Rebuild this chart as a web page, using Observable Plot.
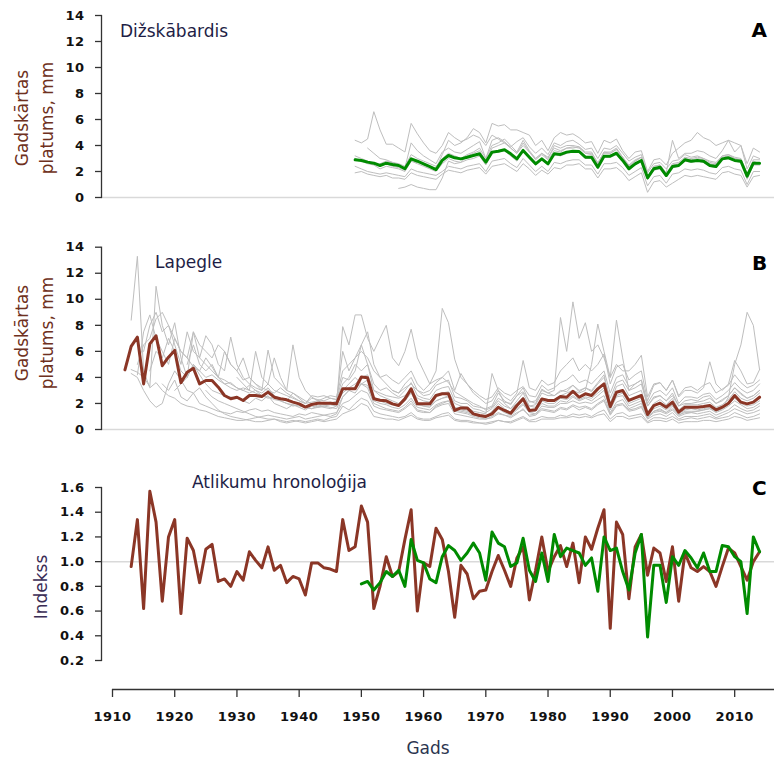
<!DOCTYPE html>
<html><head><meta charset="utf-8">
<script src="https://cdn.jsdelivr.net/npm/d3@7"></script>
<script src="https://cdn.jsdelivr.net/npm/@observablehq/plot@0.6"></script>
<style>
body{margin:0;background:#fff;}
#chart{position:relative;width:774px;height:766px;background:#fff;font-family:"DejaVu Sans",sans-serif;overflow:hidden}
.panel{position:absolute;left:0}
.lbl{position:absolute;white-space:nowrap;font-size:17px;line-height:17px}
.rot{transform:translate(-50%,-50%) rotate(-90deg)}
.letter{position:absolute;font-size:20px;font-weight:bold;line-height:20px;color:#000}
</style></head><body><div id="chart"></div><script>
// ---------- tick labels ----------
const rawTicks = [0, 2, 4, 6, 8, 10, 12, 14];
const indexTicks = [0.2, 0.4, 0.6, 0.8, 1.0, 1.2, 1.4, 1.6];
const yearTicks = [1910, 1920, 1930, 1940, 1950, 1960, 1970, 1980, 1990, 2000, 2010];

// ---------- A: Dižskābardis ring widths (mm), mean 1949–2014 ----------
const dizMeanStart = 1949;
const dizMean = [2.90,2.85,2.72,2.64,2.46,2.64,2.54,2.46,2.21,2.97,
2.79,2.59,2.38,2.15,2.85,3.23,3.05,2.97,3.10,3.23,
3.36,2.72,3.49,3.56,3.67,3.36,2.97,3.62,3.10,2.59,
2.97,2.59,3.36,3.31,3.49,3.56,3.54,3.10,3.10,2.33,
3.18,3.18,3.41,2.85,2.21,2.59,2.85,1.51,2.21,2.33,
1.69,2.38,2.46,2.90,2.79,2.85,2.79,2.46,2.38,2.97,
3.05,2.85,2.79,1.64,2.64,2.64];
// individual trees (gray)
const dizTreeStarts = [1949, 1949, 1949, 1949, 1956, 1949, 1951, 1953];
const dizTree1 = [4.4,4.2,4.5,6.6,5.2,4.1,4.1,3.8,3.5,5.7, 4.9,4.2,3.6,3.4,4.0,5.0,4.6,4.3,4.5,4.8, 4.6,4.0,4.8,4.5,4.2,3.9,4.3,4.6,3.9,3.4, 3.8,3.3,4.2,4.0,4.3,4.4,4.1,3.7,3.8,3.0, 3.8,3.7,4.0,3.4,2.8,3.1,3.3,1.9,2.6,2.7, 2.2,2.8,2.9,3.3,3.1,3.2,3.0,2.8,2.7,3.2, 3.3,3.0,2.9,1.9,2.8,2.6];
const dizTree2 = [3.2,3.0,2.8,2.6,2.5,2.6,2.4,2.3,2.1,3.0, 2.8,2.5,2.4,2.2,3.3,4.4,4.0,4.2,4.6,5.3, 5.0,4.2,5.7,5.5,5.6,5.2,5.2,5.0,4.8,4.0, 4.4,3.6,4.6,5.0,4.8,4.9,4.6,4.2,4.3,3.4, 4.4,4.2,4.5,3.6,3.0,3.5,3.6,2.0,2.9,3.0, 2.5,3.4,3.8,4.2,4.4,5.0,4.6,4.4,4.0,4.2, 4.4,4.2,4.0,2.6,3.8,3.5];
const dizTree3 = [3.0,2.8,2.6,2.5,2.2,2.4,2.3,2.2,2.0,2.8, 2.6,2.4,2.2,2.0,2.6,3.0,2.8,2.7,2.9,3.0, 3.2,2.5,3.4,3.5,3.6,3.2,2.8,3.6,3.0,2.5, 2.9,2.5,3.3,3.2,3.4,3.5,3.5,3.0,3.0,2.2, 3.1,3.1,3.3,2.8,2.1,2.5,2.8,1.4,2.1,2.2, 1.6,2.3,2.4,2.8,2.7,2.8,2.7,2.4,2.3,2.9, 3.0,2.8,2.7,1.5,2.6,2.6];
const dizTree4 = [2.4,2.2,2.0,1.9,1.8,1.9,1.8,1.7,1.6,2.2, 2.0,1.9,1.8,1.7,2.0,2.4,2.3,2.2,2.4,2.5, 2.6,2.0,2.8,2.9,3.0,2.6,2.3,3.0,2.5,2.0, 2.4,2.0,2.7,2.6,2.8,2.9,2.9,2.5,2.5,1.8, 2.6,2.6,2.7,2.3,1.7,2.0,2.3,0.9,1.6,1.7, 1.1,1.8,1.9,2.2,2.1,2.2,2.1,1.9,1.8,2.3, 2.4,2.2,2.1,1.0,2.0,2.0];
const dizTree5 = [0.7,0.8,1.0,0.8,0.7,0.6,0.6,1.5,2.8,2.6, 2.7,3.2,3.4,3.6,2.8,3.8,4.0,4.2,3.8,3.4, 4.0,3.5,2.9,3.3,2.9,3.6,3.5,3.8,3.8,3.9, 3.4,3.3,2.6,3.5,3.4,3.7,3.1,2.4,2.8,3.1, 1.6,2.4,2.5,1.8,2.6,2.7,3.1,3.0,3.1,3.0, 2.7,2.6,3.2,3.3,3.1,3.0,1.8,2.9,2.9];
const dizTree6 = [1.9,2.0,1.8,1.7,1.6,1.7,1.5,1.5,1.4,1.9, 1.7,1.6,1.5,1.4,1.8,2.1,2.0,1.9,2.1,2.2, 2.3,1.8,2.4,2.5,2.6,2.3,2.0,2.6,2.2,1.7, 2.1,1.8,2.3,2.2,2.5,2.5,2.6,2.2,2.2,1.5, 2.2,2.2,2.3,1.9,1.3,1.6,1.9,0.4,1.2,1.3, 0.8,1.1,1.4,1.7,1.6,1.7,1.6,1.5,1.4,1.9, 2.0,1.8,1.7,0.8,1.6,1.7];
const dizTree7 = [3.8,3.4,3.0,2.9,2.7,2.5,2.3,4.2,3.6,3.2, 2.9,2.6,3.5,3.8,3.5,3.4,3.7,4.0,4.3,3.0, 4.4,4.6,4.3,3.8,3.4,4.2,3.5,3.0,3.4,3.0, 4.0,3.8,4.0,4.0,3.9,3.5,3.5,2.6,3.5,3.5, 3.8,3.1,2.5,2.9,3.1,1.6,2.4,2.5,1.9,4.4, 3.0,3.4,3.4,3.6,3.5,3.2,3.0,3.6,4.4,3.5, 4.0,2.2,3.2,3.0];
const dizTree8 = [2.6,2.8,2.7,2.6,2.4,3.3,3.0,2.8,2.6,2.4, 3.0,3.4,3.2,3.0,3.3,3.5,3.8,3.0,4.0,4.2, 4.5,4.0,3.5,4.4,3.6,3.0,3.4,3.1,3.8,3.6, 3.8,3.9,3.8,3.4,3.4,2.7,3.4,3.4,3.7,3.1, 2.4,2.8,3.1,1.4,2.2,2.3,1.6,2.5,2.6,3.0, 2.9,3.0,2.9,2.6,2.5,3.1,3.2,3.0,2.9,1.4, 2.5,2.5];

// ---------- B: Lapegle ring widths (mm), mean 1912–2014 ----------
const lapMeanStart = 1912;
const lapMean = [4.58,6.38,7.09,3.50,6.58,7.20,4.90,5.55,6.07,3.60,
4.40,4.70,3.50,3.76,3.76,3.25,2.61,2.36,2.48,2.23,
2.61,2.61,2.53,2.87,2.48,2.36,2.28,2.10,1.97,1.72,
1.92,2.02,2.02,2.02,1.97,3.13,3.13,3.13,4.03,3.97,
2.36,2.25,2.20,1.97,1.84,2.35,3.12,1.97,1.97,1.97,
2.61,2.74,2.74,1.46,1.66,1.66,1.20,1.08,1.00,1.20,
1.71,1.46,1.25,1.84,2.35,1.46,1.51,2.35,2.23,2.23,
2.53,2.48,2.94,2.48,2.74,2.61,3.12,3.50,1.76,2.86,
2.99,2.23,2.43,2.61,1.15,1.84,2.02,1.71,2.10,1.33,
1.71,1.71,1.71,1.76,1.84,1.51,1.71,2.02,2.61,2.10,
1.97,2.10,2.48];
const lapTreeStarts = [1913, 1913, 1913, 1915, 1914, 1916, 1920, 1918, 1922, 1925, 1914, 1930, 1955];
const lapTree1 = [8.4,13.3,4.5,3.2,3.6,3.0,2.6,2.4,2.0,1.8, 1.7,1.5,1.4,1.2,1.0,0.9,0.8,0.7,0.7,0.8, 0.9,1.0,1.1,1.0,0.9,0.8,0.9,1.0,0.8,0.9, 1.0,1.1,1.0,1.2,2.5,3.0,2.8,3.5,3.2,2.0, 1.8,1.6,1.5,1.4,1.7,2.2,1.5,1.4,1.3,1.8, 2.0,2.2,1.4,1.3,1.2,1.0,0.9,0.8,0.9,1.2, 1.1,1.0,1.3,1.5,1.1,1.2,1.6,1.5,1.4,1.7, 1.6,1.9,1.7,1.8,1.6,2.0,2.3,1.2,1.9,2.0, 1.5,1.6,1.8,0.9,1.3,1.4,1.2,1.5,1.0,1.2, 1.3,1.2,1.3,1.4,1.1,1.3,1.5,1.9,1.6,1.4,1.5,1.8];
const lapTree2 = [4.6,4.4,4.0,3.3,11.0,8.0,6.5,8.2,5.5,4.0, 5.0,4.2,3.5,3.0,2.8,2.6,2.5,2.4,2.2,2.0, 2.4,2.2,2.6,2.0,1.8,1.6,1.9,1.7,1.5,1.8, 1.7,1.8,1.9,1.8,7.9,6.5,8.8,8.8,7.0,6.0, 7.0,8.0,5.5,4.9,6.0,7.7,5.5,4.5,3.5,3.8, 4.0,3.6,2.9,2.6,2.3,2.0,1.8,1.5,1.7,2.4, 2.1,2.0,2.6,2.9,2.2,2.0,3.1,2.8,2.6,2.9, 3.1,3.4,3.0,3.2,2.9,3.5,4.0,2.4,3.6,3.8, 3.0,3.2,3.5,1.8,2.4,2.6,2.2,2.8,1.8,2.2, 2.3,2.2,2.5,2.6,2.0,2.3,2.6,3.2,2.7,2.4,2.6,3.0];
const lapTree3 = [4.3,4.0,3.0,2.2,1.7,2.0,3.5,4.5,3.8,3.0, 2.8,3.2,2.5,2.0,1.5,1.2,1.0,0.9,0.8,0.7, 0.6,0.6,0.7,0.8,0.6,0.5,0.6,0.7,0.6,0.7, 0.8,0.7,0.9,1.0,1.8,1.5,2.0,2.4,2.2,1.4, 1.2,1.1,1.0,0.9,1.0,1.3,0.9,0.8,0.8,1.0, 1.2,1.3,0.8,0.7,0.7,0.6,0.5,0.5,0.6,0.7, 0.6,0.6,0.8,1.0,0.7,0.8,1.0,0.9,0.9,1.1, 1.0,1.2,1.1,1.2,1.0,1.3,1.5,0.8,1.2,1.3, 1.0,1.1,1.2,0.6,0.9,0.9,0.8,1.0,0.7,0.8, 0.9,0.8,0.9,1.0,0.8,0.9,1.0,1.3,1.1,0.9,1.0,1.2];
const lapTree4 = [6.0,8.0,9.0,7.5,8.0,6.5,5.0,7.5,6.0,5.5, 7.2,6.5,5.0,4.5,7.1,5.0,4.0,3.5,3.2,3.0, 6.1,4.0,3.5,3.0,6.5,4.0,3.0,2.5,2.2,2.4, 2.6,2.5,4.5,5.0,5.5,6.0,5.5,4.5,4.0,4.2, 3.8,3.5,4.0,4.5,3.5,3.0,3.5,4.5,9.3,8.2, 5.4,4.0,3.5,3.0,2.6,2.3,2.5,3.2,2.8,2.6, 3.0,3.3,2.6,2.5,3.4,3.0,3.2,3.6,3.8,4.2, 3.6,3.8,3.5,4.0,4.5,2.8,4.0,4.2,3.3,3.5, 3.8,2.0,2.8,3.0,2.6,3.2,2.0,2.5,2.5,2.4, 2.7,2.8,2.3,2.6,3.0,3.6,3.1,2.8,3.0,3.5];
const lapTree5 = [5.0,6.5,7.0,8.5,9.0,8.0,7.0,6.0,5.5,7.5, 6.5,6.0,5.5,6.5,6.0,5.0,4.5,5.5,4.0,3.5, 3.2,3.0,2.8,3.2,2.8,2.5,2.2,2.0,2.4,2.3, 2.2,2.4,2.3,3.5,4.0,5.0,4.5,5.0,3.5,3.0, 3.2,2.8,2.5,3.0,3.6,2.6,2.4,2.3,3.0,3.2, 3.3,2.2,2.0,2.0,1.6,1.5,1.3,1.6,2.2,1.8, 1.6,2.2,2.8,1.8,1.9,2.8,2.6,2.6,3.0,2.9, 3.4,2.9,3.2,3.0,3.6,4.2,2.0,3.3,3.5,2.6, 2.8,3.0,1.3,2.0,2.3,1.9,2.4,1.5,1.9,1.9, 1.9,2.0,2.1,1.7,1.9,2.3,2.9,2.4,2.2,2.4,2.8];
const lapTree6 = [4.5,6.0,5.5,7.0,6.0,4.5,4.0,5.0,4.5,4.0, 4.2,3.8,3.5,3.6,3.2,3.0,3.4,3.0,2.8,3.2, 2.6,2.4,2.2,2.8,2.4,2.0,2.6,2.5,2.6,2.4, 2.3,4.0,3.8,4.5,6.5,7.5,5.0,4.0,3.5,3.0, 2.8,3.5,4.0,3.0,2.6,2.7,3.4,3.6,3.8,2.5, 2.4,2.2,1.8,1.7,1.6,1.8,2.8,2.2,1.9,2.6, 3.2,2.1,2.2,3.0,2.8,3.0,8.6,6.0,9.8,7.0, 8.2,6.0,6.5,5.5,4.0,5.0,4.5,4.5,5.0,5.7, 2.5,3.5,3.6,3.0,3.8,2.5,3.0,3.0,2.8,3.2, 5.2,3.5,3.0,3.5,5.3,4.5,3.5,3.6,4.6];
const lapTree7 = [3.0,3.5,4.0,7.5,5.5,5.0,4.5,4.0,3.5,3.2, 3.0,3.2,3.0,6.0,4.0,3.5,3.0,2.8,2.6,2.4, 2.2,2.0,2.1,2.2,2.0,2.1,2.0,2.8,3.2,3.5, 4.0,4.2,3.0,2.8,2.6,2.5,2.4,2.6,3.0,2.4, 2.2,2.1,2.6,2.8,2.9,2.0,1.8,1.7,1.4,1.3, 1.2,4.3,3.0,2.0,1.6,2.0,2.5,1.8,1.7,2.4, 2.3,2.3,2.6,2.8,3.0,2.8,3.0,5.0,8.1,6.0, 4.0,8.4,5.5,3.0,3.5,3.8,1.8,2.5,2.6,2.2, 2.6,1.8,2.0,2.0,2.1,2.2,2.4,2.0,2.2,2.6, 3.2,2.8,2.4,2.6,3.0];
const lapTree8 = [3.5,3.0,3.8,2.5,2.2,2.8,2.0,1.8,1.6,1.4, 1.3,1.2,1.4,1.3,1.5,1.6,1.4,1.5,1.3,1.2, 1.1,1.0,1.2,1.1,1.3,1.2,1.1,1.2,1.3,2.0, 2.2,2.6,3.0,2.8,1.8,1.6,1.5,1.4,1.3,1.6, 2.0,1.4,1.3,1.3,1.7,1.9,2.0,1.2,1.1,1.0, 0.9,0.8,0.8,1.0,1.3,1.1,0.9,1.2,1.6,1.0, 1.1,1.5,1.4,1.3,1.6,1.5,1.8,1.5,1.7,1.5, 1.9,2.2,1.1,1.8,1.9,1.4,1.5,1.7,0.8,1.1, 1.2,1.0,1.3,0.8,1.0,1.0,1.0,1.1,1.2,0.9, 1.1,1.3,1.6,1.4,1.2,1.3,1.5];
const lapTree9 = [5.0,6.5,5.0,4.5,5.0,4.0,6.0,5.0,4.5,3.8, 4.0,3.5,3.0,3.5,5.5,4.0,3.0,2.8,2.5,2.2, 2.0,1.8,1.9,2.0,2.2,6.0,4.5,5.5,6.5,5.0, 3.0,2.6,2.4,2.2,2.0,2.4,3.0,2.0,1.8,1.8, 2.2,2.4,2.5,1.7,1.6,1.5,1.2,1.0,1.0,1.4, 2.0,1.6,1.3,1.8,2.3,1.4,1.5,2.2,2.0,2.0, 2.4,2.3,2.6,2.3,2.5,2.4,2.8,3.2,1.6,2.6, 2.8,2.0,2.2,2.4,1.1,1.6,1.8,1.5,1.9,1.2, 1.5,1.6,1.5,1.6,1.7,1.4,1.6,1.9,2.4,2.0, 1.8,1.9,2.2];
const lapTree10 = [3.0,2.5,2.2,2.0,1.8,1.6,1.4,1.2,1.0,0.9, 0.8,0.8,0.7,0.6,0.7,0.6,0.5,0.6,0.7,0.6, 0.7,0.8,1.2,1.4,1.6,2.0,1.8,1.0,0.9,0.8, 0.8,0.7,0.9,1.1,0.8,0.7,0.7,0.9,1.0,1.1, 0.7,0.6,0.6,0.5,0.5,0.4,0.5,0.7,0.6,0.5, 0.7,0.9,0.6,0.6,0.8,0.8,0.8,0.9,0.9,1.0, 0.9,1.0,0.9,1.1,1.2,0.6,1.0,1.0,0.8,0.9, 1.0,0.5,0.7,0.7,0.6,0.8,0.5,0.6,0.6,0.6, 0.7,0.7,0.6,0.7,0.8,1.0,0.9,0.7,0.8,0.9];
const lapTree11 = [4.2,7.5,8.8,7.0,6.0,5.0,7.0,6.0,5.5,4.8, 4.5,5.5,4.8,4.0,3.8,3.5,3.2,3.0,2.8,3.0, 2.6,2.4,2.5,2.2,2.0,1.8,1.9,1.7,1.6,1.8, 1.7,1.6,1.8,3.0,3.5,4.0,3.5,3.8,2.5,2.2, 2.0,1.9,1.8,2.2,2.8,1.9,1.8,1.7,2.2,2.4, 2.6,1.6,1.5,1.4,1.2,1.1,1.0,1.3,1.8,1.4, 1.2,1.6,2.0,1.3,1.4,2.0,1.8,1.8,2.2,2.1, 2.5,2.2,2.4,2.2,2.6,3.0,1.5,2.5,2.6,1.8, 2.0,2.2,0.9,1.4,1.6,1.3,1.8,1.1,1.4,1.4, 1.4,1.5,1.6,1.3,1.5,1.8,2.2,1.9,1.6,1.7,2.0];
const lapTree12 = [4.0,3.5,3.0,2.8,2.6,2.5,2.3,2.2,2.0,1.9, 1.8,1.7,1.6,1.7,1.8,1.7,1.6,2.5,3.0,3.2, 3.5,3.4,2.2,2.0,1.9,1.7,1.6,1.9,2.4,1.7, 1.6,1.5,1.9,2.1,2.2,1.5,1.4,1.3,1.1,1.0, 0.9,1.2,1.6,1.3,1.1,1.5,1.9,1.3,1.2,1.8, 1.7,1.7,2.0,2.0,2.2,2.0,2.1,2.0,2.3,2.6, 1.3,2.1,2.3,1.6,1.8,2.0,1.0,1.4,1.5,1.3, 1.6,1.1,1.3,1.3,1.4,1.5,1.6,1.4,1.6,2.5, 5.0,6.5,9.0,8.0,4.6];
const lapTree13 = [3.0,2.8,3.2,3.5,3.0,2.8,3.0,3.6,4.0,4.5, 3.0,4.3,3.5,2.8,2.4,2.0,2.2,3.0,2.5,2.2, 2.8,5.3,3.2,3.0,3.8,3.4,3.6,4.5,5.0,5.5, 4.5,5.0,4.5,5.0,5.8,3.5,4.8,5.0,3.8,4.2, 4.5,2.2,3.4,3.6,3.0,3.8,2.6,3.2,3.3,3.0, 3.4,3.6,2.8,3.1,3.4,4.2,3.6,3.2,3.4,3.8];

// ---------- C: residual chronologies (index) ----------
const lapIndexStart = 1913;
const lapIndex = [0.96,1.34,0.62,1.57,1.32,0.68,1.20,1.34,0.58,1.19,
1.09,0.83,1.10,1.14,0.84,0.86,0.80,0.92,0.85,1.08,
1.01,0.95,1.12,0.93,0.97,0.83,0.88,0.86,0.73,0.99,
0.99,0.95,0.94,0.92,1.34,1.09,1.12,1.45,1.32,0.62,
0.80,1.04,0.88,0.92,1.18,1.42,0.60,0.99,0.96,1.27,
1.18,0.92,0.55,0.97,0.90,0.70,0.76,0.77,0.92,1.05,
0.93,0.80,1.03,1.12,0.69,0.93,1.20,0.92,1.04,1.13,
0.96,1.15,0.83,1.20,1.10,1.27,1.42,0.46,1.32,1.22,
0.70,1.12,1.22,0.89,1.11,1.07,0.84,1.12,0.68,1.07,
0.95,0.92,0.96,0.92,0.80,0.96,1.11,1.07,0.96,0.85,
1.00,1.08];
const dizIndexStart = 1950;
const dizIndex = [0.82,0.84,0.77,0.83,0.92,0.88,0.93,0.80,1.18,1.01,
0.99,0.86,0.83,1.04,1.13,1.09,1.01,1.07,1.15,1.07,
0.85,1.24,1.15,1.12,0.96,0.99,1.19,0.93,0.84,1.07,
0.84,1.22,1.04,1.11,1.09,1.07,0.97,1.03,0.76,1.20,
1.09,1.11,0.92,0.77,1.07,1.22,0.39,0.97,0.97,0.67,
1.04,0.97,1.09,1.03,0.95,1.07,0.92,0.92,1.13,1.12,
1.04,1.00,0.58,1.20,1.08];

// ---------- build tables ----------
const toRows = (id, start, vals) => vals.map((v, i) => ({id, year: start + i, v}));
const dizTrees = [dizTree1, dizTree2, dizTree3, dizTree4, dizTree5, dizTree6, dizTree7, dizTree8];
const lapTrees = [lapTree1, lapTree2, lapTree3, lapTree4, lapTree5, lapTree6, lapTree7, lapTree8, lapTree9, lapTree10, lapTree11, lapTree12, lapTree13];
const dizGray = dizTrees.flatMap((a, k) => toRows("d" + k, dizTreeStarts[k], a));
const lapGray = lapTrees.flatMap((a, k) => toRows("l" + k, lapTreeStarts[k], a));
const dizMeanRows = toRows("dm", dizMeanStart, dizMean);
const lapMeanRows = toRows("lm", lapMeanStart, lapMean);
const lapIndexRows = toRows("li", lapIndexStart, lapIndex);
const dizIndexRows = toRows("di", dizIndexStart, dizIndex);

const GREEN = "#008b00", BROWN = "#8b3626", GRAY = "#bebebe", LIGHT = "#d9d9d9", AX = "#333";
const xScale = {domain: [1910, 2016.4], range: [112, 774], axis: null};
const baseStyle = {fontFamily: "DejaVu Sans", fontSize: "13px", fontWeight: "bold", letterSpacing: "0.5px",
  background: "transparent", overflow: "visible", color: "#111"};

function rawPanel(gray, mean, color, height, mt, mb) {
  return Plot.plot({
    width: 774, height, marginTop: mt, marginBottom: mb, marginLeft: 101, marginRight: 0,
    style: baseStyle,
    x: xScale,
    y: {domain: [0, 14], axis: null},
    marks: [
      Plot.ruleY([0], {stroke: LIGHT, strokeWidth: 1.5}),
      Plot.line(gray, {x: "year", y: "v", z: "id", stroke: GRAY, strokeWidth: 1}),
      Plot.line(mean, {x: "year", y: "v", stroke: color, strokeWidth: 3}),
      Plot.axisY({ticks: rawTicks, tickSize: 6, tickPadding: 11, stroke: AX, strokeWidth: 1.3, label: null, tickFormat: "d"}),
      Plot.frame({anchor: "left", stroke: AX, strokeWidth: 1.3})
    ]
  });
}

const panelA = rawPanel(dizGray, dizMeanRows, GREEN, 205, 15, 8);
const panelB = rawPanel(lapGray, lapMeanRows, BROWN, 207, 16.7, 8);
const panelC = Plot.plot({
  width: 774, height: 212, marginTop: 27, marginBottom: 12, marginLeft: 101, marginRight: 0,
  style: baseStyle,
  x: xScale,
  y: {domain: [0.2, 1.6], axis: null},
  marks: [
    Plot.ruleY([1], {stroke: LIGHT, strokeWidth: 1.5}),
    Plot.line(lapIndexRows, {x: "year", y: "v", stroke: BROWN, strokeWidth: 3}),
    Plot.line(dizIndexRows, {x: "year", y: "v", stroke: GREEN, strokeWidth: 3}),
    Plot.axisY({ticks: indexTicks, tickSize: 6, tickPadding: 11, stroke: AX, strokeWidth: 1.3, label: null, tickFormat: d3.format(".1f")}),
    Plot.frame({anchor: "left", stroke: AX, strokeWidth: 1.3})
  ]
});
const xAxisPanel = Plot.plot({
  width: 774, height: 86, marginTop: 0, marginBottom: 77, marginLeft: 112, marginRight: 0,
  style: baseStyle,
  x: xScale,
  y: {domain: [0, 1], axis: null},
  marks: [
    Plot.ruleY([0], {stroke: AX, strokeWidth: 1.3}),
    Plot.axisX({ticks: yearTicks, tickSize: 8, tickPadding: 14, stroke: AX, strokeWidth: 1.3, label: null, tickFormat: "d"})
  ]
});

const chart = document.getElementById("chart");
[[panelA, 0], [panelB, 230], [panelC, 460], [xAxisPanel, 680]].forEach(([svg, top]) => {
  svg.classList.add("panel");
  svg.style.position = "absolute";
  svg.style.top = top + "px";
  svg.style.left = "0px";
  chart.appendChild(svg);
});

function addLabel(text, css, cls) {
  const d = document.createElement("div");
  d.className = cls;
  d.textContent = text;
  Object.assign(d.style, css);
  chart.appendChild(d);
}
const titleColor = "#6e3020";
addLabel("Dižskābardis", {left: "120px", top: "22.6px", color: "#1e1e46"}, "lbl");
addLabel("Lapegle", {left: "155px", top: "253.6px", color: "#1e1e46"}, "lbl");
addLabel("Atlikumu hronoloģija", {left: "192px", top: "473.6px", color: "#1e1e46"}, "lbl");
addLabel("Gadskārtas", {left: "22px", top: "118px", color: titleColor}, "lbl rot");
addLabel("platums, mm", {left: "47px", top: "118px", color: titleColor}, "lbl rot");
addLabel("Gadskārtas", {left: "22px", top: "333px", color: titleColor}, "lbl rot");
addLabel("platums, mm", {left: "47px", top: "333px", color: titleColor}, "lbl rot");
addLabel("Indekss", {left: "41px", top: "587px", color: "#3a2c55"}, "lbl rot");
addLabel("Gads", {left: "428px", top: "739.6px", color: "#2c3550", transform: "translateX(-50%)"}, "lbl");
addLabel("A", {left: "751.5px", top: "19.8px"}, "letter");
addLabel("B", {left: "752px", top: "253px"}, "letter");
addLabel("C", {left: "752px", top: "478px"}, "letter");
</script></body></html>
